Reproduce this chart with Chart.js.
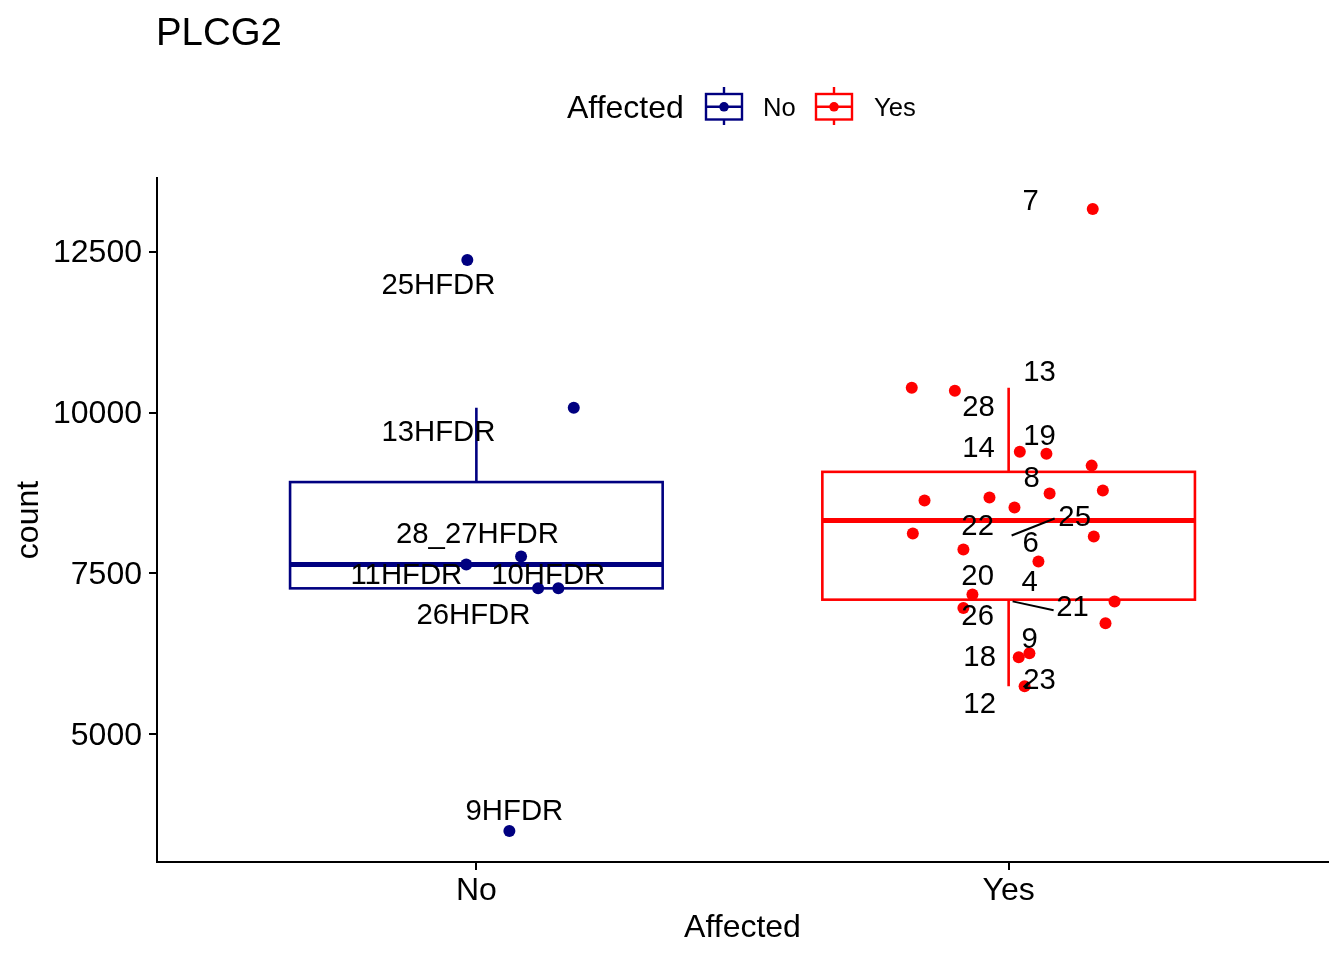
<!DOCTYPE html>
<html>
<head>
<meta charset="utf-8">
<title>PLCG2</title>
<script src="https://cdn.jsdelivr.net/npm/chart.js@4.4.1/dist/chart.umd.min.js"></script>
<style>
  body { margin: 0; background: #fff; }
  #wrap { width: 1344px; height: 960px; position: relative; }
</style>
</head>
<body>
<div id="wrap"><canvas id="boxChart"></canvas></div>
<script>
// groups on the x axis (positions 1 and 2)
const groups = ['No', 'Yes'];
const yTicks = [5000, 7500, 10000, 12500];

// jittered points, group "No"
const noX = [0.983, 1.183, 0.981, 1.084, 1.116, 1.154, 1.062];
const noCount = [12368, 10074, 7641, 7765, 7269, 7269, 3502];

// jittered points, group "Yes"
const yesX = [2.158, 1.818, 1.899, 2.021, 2.071, 2.156, 1.842, 1.964, 2.077, 2.177, 2.011,
              1.820, 2.160, 1.915, 2.056, 1.932, 2.199, 1.915, 2.182, 2.039, 2.019, 2.030];
const yesCount = [13159, 10385, 10338, 9392, 9361, 9175, 8632, 8679, 8741, 8788, 8524,
                  8121, 8075, 7873, 7687, 7175, 7066, 6965, 6727, 6261, 6199, 5750];

// repelled sample labels (placed in data units)
const noLabelText = ['25HFDR', '13HFDR', '28_27HFDR', '11HFDR', '10HFDR', '26HFDR', '9HFDR'];
const noLabelX = [0.9286, 0.9286, 1.002, 0.8685, 1.135, 0.9944, 1.0714];
const noLabelY = [11996, 9702, 8121, 7486, 7486, 6866, 3828];

const yesLabelText = ['7', '13', '28', '14', '19', '8', '25', '22', '6', '20', '4', '21', '26', '9', '18', '23', '12'];
const yesLabelX = [2.0413, 2.0582, 1.9436, 1.9436, 2.0582, 2.0432, 2.124, 1.9418, 2.0413, 1.9418,
                   2.0395, 2.1202, 1.9418, 2.0395, 1.9455, 2.0582, 1.9455];
const yesLabelY = [13298, 10632, 10090, 9454, 9640, 8989, 8385, 8245, 7982, 7470,
                   7377, 6990, 6850, 6494, 6215, 5858, 5486];

// label leader segments [x0, y0, x1, y1]
const segments = [
    [2.0056, 8090, 2.0864, 8354],
    [2.0075, 7067, 2.0845, 6928],
    [2.0282, 5734, 2.0376, 5812]
];

const colors = { No: '#000080', Yes: '#ff0000' };
const FONT = '"Liberation Sans", Arial, Helvetica, sans-serif';

function quantile(sorted, p) {
    const h = (sorted.length - 1) * p;
    const lo = Math.floor(h);
    const hi = Math.min(lo + 1, sorted.length - 1);
    return sorted[lo] + (h - lo) * (sorted[hi] - sorted[lo]);
}

function boxStats(values) {
    const s = [...values].sort((a, b) => a - b);
    const q1 = quantile(s, 0.25), med = quantile(s, 0.5), q3 = quantile(s, 0.75);
    const iqr = q3 - q1;
    const lo = Math.min(...s.filter(v => v >= q1 - 1.5 * iqr));
    const hi = Math.max(...s.filter(v => v <= q3 + 1.5 * iqr));
    return { q1, med, q3, lo, hi };
}

// ggplot-like 5% expansion of the y range
const allCounts = noCount.concat(yesCount);
const yLo = Math.min(...allCounts), yHi = Math.max(...allCounts);
const yPad = (yHi - yLo) * 0.05;

const boxPlugin = {
    id: 'boxes',
    beforeDatasetsDraw(chart) {
        const { ctx, scales: { x, y } } = chart;
        [[1, noCount, colors.No], [2, yesCount, colors.Yes]].forEach(([pos, vals, col]) => {
            const st = boxStats(vals);
            const xl = x.getPixelForValue(pos - 0.35), xr = x.getPixelForValue(pos + 0.35);
            const xc = x.getPixelForValue(pos);
            ctx.save();
            ctx.strokeStyle = col;
            ctx.lineWidth = 2.6;
            ctx.beginPath();
            ctx.moveTo(xc, y.getPixelForValue(st.q3));
            ctx.lineTo(xc, y.getPixelForValue(st.hi));
            ctx.moveTo(xc, y.getPixelForValue(st.q1));
            ctx.lineTo(xc, y.getPixelForValue(st.lo));
            ctx.stroke();
            const yt = y.getPixelForValue(st.q3), yb = y.getPixelForValue(st.q1);
            ctx.strokeRect(xl, yt, xr - xl, yb - yt);
            ctx.lineWidth = 5;
            ctx.beginPath();
            ctx.moveTo(xl, y.getPixelForValue(st.med));
            ctx.lineTo(xr, y.getPixelForValue(st.med));
            ctx.stroke();
            ctx.restore();
        });
    }
};

const labelPlugin = {
    id: 'labels',
    afterDatasetsDraw(chart) {
        const { ctx, scales: { x, y } } = chart;
        const dy = 1.5; // canvas "middle" sits a little high vs. R's text centring
        ctx.save();
        ctx.strokeStyle = '#000';
        ctx.lineWidth = 2;
        segments.forEach(s => {
            ctx.beginPath();
            ctx.moveTo(x.getPixelForValue(s[0]), y.getPixelForValue(s[1]));
            ctx.lineTo(x.getPixelForValue(s[2]), y.getPixelForValue(s[3]));
            ctx.stroke();
        });
        ctx.fillStyle = '#000';
        ctx.font = `29.3px ${FONT}`;
        ctx.textAlign = 'center';
        ctx.textBaseline = 'middle';
        noLabelText.forEach((t, i) => ctx.fillText(t, x.getPixelForValue(noLabelX[i]), y.getPixelForValue(noLabelY[i]) + dy));
        yesLabelText.forEach((t, i) => ctx.fillText(t, x.getPixelForValue(yesLabelX[i]), y.getPixelForValue(yesLabelY[i]) + dy));
        ctx.restore();
    }
};

function drawKey(ctx, left, col) {
    const w = 36, cx = left + w / 2;
    ctx.strokeStyle = col;
    ctx.fillStyle = col;
    ctx.lineWidth = 2.4;
    ctx.beginPath();
    ctx.moveTo(cx, 87); ctx.lineTo(cx, 94);
    ctx.moveTo(cx, 119.5); ctx.lineTo(cx, 125);
    ctx.moveTo(left, 106.8); ctx.lineTo(left + w, 106.8);
    ctx.stroke();
    ctx.strokeRect(left, 94, w, 25.5);
    ctx.beginPath();
    ctx.arc(cx, 106.8, 4.8, 0, Math.PI * 2);
    ctx.fill();
}

const headerPlugin = {
    id: 'header',
    afterDraw(chart) {
        const ctx = chart.ctx;
        ctx.save();
        ctx.fillStyle = '#000';
        ctx.textAlign = 'left';
        ctx.textBaseline = 'alphabetic';
        ctx.font = `38.4px ${FONT}`;
        ctx.fillText('PLCG2', chart.chartArea.left - 1, 45);
        ctx.textBaseline = 'middle';
        ctx.font = `32px ${FONT}`;
        ctx.fillText('Affected', 567, 109);
        drawKey(ctx, 706, colors.No);
        drawKey(ctx, 816, colors.Yes);
        ctx.fillStyle = '#000';
        ctx.font = `25.6px ${FONT}`;
        ctx.fillText('No', 763, 108.5);
        ctx.fillText('Yes', 874, 108.5);
        ctx.restore();
    }
};

const ctx = document.getElementById('boxChart').getContext('2d');
new Chart(ctx, {
    type: 'scatter',
    data: {
        datasets: [
            {
                label: 'No',
                data: noX.map((v, i) => ({ x: v, y: noCount[i] })),
                backgroundColor: colors.No,
                borderWidth: 0,
                pointRadius: 6,
                pointHoverRadius: 6
            },
            {
                label: 'Yes',
                data: yesX.map((v, i) => ({ x: v, y: yesCount[i] })),
                backgroundColor: colors.Yes,
                borderWidth: 0,
                pointRadius: 6,
                pointHoverRadius: 6
            }
        ]
    },
    options: {
        responsive: true,
        maintainAspectRatio: false,
        animation: false,
        layout: { padding: { top: 178, right: 16, left: 0, bottom: 0 } },
        scales: {
            x: {
                type: 'linear',
                min: 0.4,
                max: 2.6,
                afterBuildTicks: scale => { scale.ticks = [{ value: 1 }, { value: 2 }]; },
                afterFit: scale => { scale.height = 98; },
                ticks: {
                    color: '#000',
                    padding: 5,
                    font: { family: FONT, size: 32, lineHeight: 1 },
                    callback: v => groups[v - 1]
                },
                grid: { drawOnChartArea: false, color: '#000', lineWidth: 2, tickLength: 8 },
                border: { display: true, color: '#000', width: 2 },
                title: {
                    display: true,
                    text: 'Affected',
                    color: '#000',
                    font: { family: FONT, size: 32, lineHeight: 1 },
                    padding: { top: 0, bottom: 16 }
                }
            },
            y: {
                type: 'linear',
                min: yLo - yPad,
                max: yHi + yPad,
                afterBuildTicks: scale => { scale.ticks = yTicks.map(v => ({ value: v })); },
                afterFit: scale => { scale.width = 157; },
                ticks: {
                    color: '#000',
                    padding: 7,
                    labelOffset: 2,
                    font: { family: FONT, size: 32, lineHeight: 1 },
                    callback: v => String(v)
                },
                grid: { drawOnChartArea: false, color: '#000', lineWidth: 2, tickLength: 8 },
                border: { display: true, color: '#000', width: 2 },
                title: {
                    display: true,
                    text: 'count',
                    color: '#000',
                    font: { family: FONT, size: 32, lineHeight: 1 },
                    padding: { top: 13, bottom: 0 }
                }
            }
        },
        plugins: {
            legend: { display: false },
            tooltip: { enabled: false },
            title: { display: false }
        }
    },
    plugins: [boxPlugin, labelPlugin, headerPlugin]
});
</script>
</body>
</html>
